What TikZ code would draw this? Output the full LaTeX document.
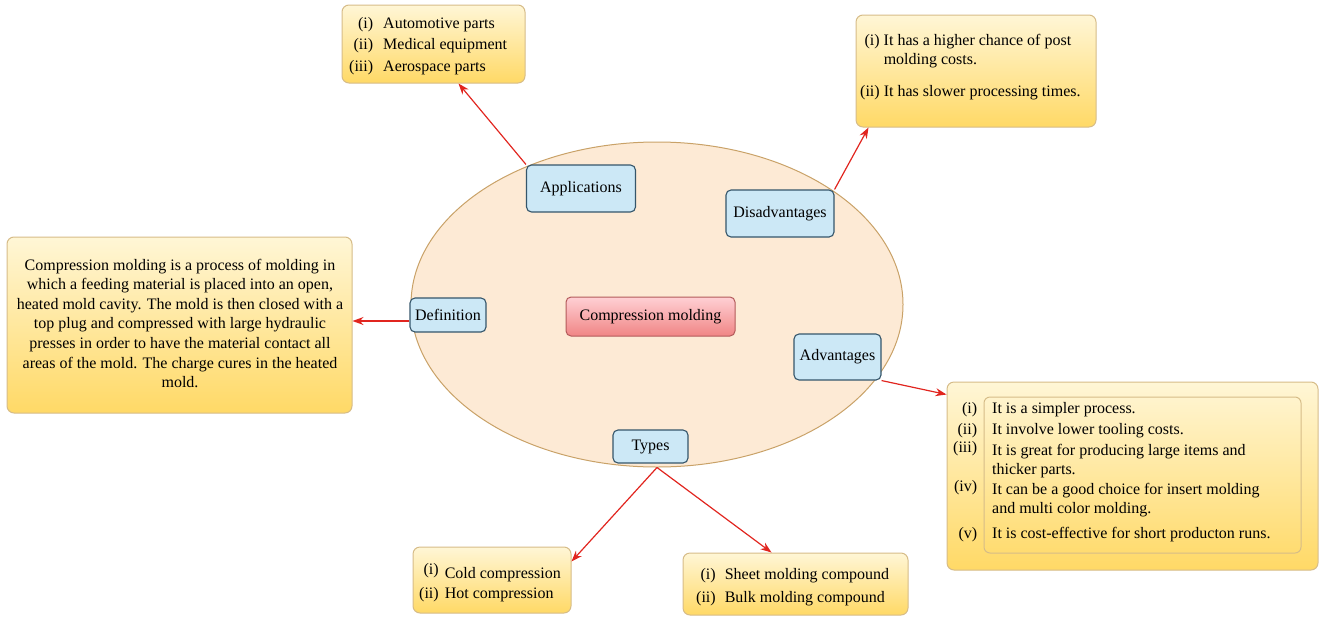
\documentclass[tikz,border=0pt]{standalone}
\usepackage{fontspec}
\setmainfont{Liberation Serif}
\usetikzlibrary{shapes.geometric,arrows.meta}

\definecolor{hubfill}{HTML}{FDEAD5}
\definecolor{hubline}{HTML}{C9A268}
\definecolor{topicfill}{HTML}{CCE8F6}
\definecolor{topicline}{HTML}{35566B}
\definecolor{coretop}{HTML}{FFD0D4}
\definecolor{corebot}{HTML}{F08585}
\definecolor{coreline}{HTML}{B35A5A}
\definecolor{notetop}{HTML}{FFF6D6}
\definecolor{notebot}{HTML}{FFD966}
\definecolor{noteline}{HTML}{D6BC88}
\definecolor{linkred}{HTML}{E1251F}

\tikzset{
  topic/.style={draw=topicline, fill=topicfill, rounded corners=5pt, line width=1.1pt, inner sep=0pt},
  core/.style={draw=coreline, top color=coretop, bottom color=corebot, rounded corners=5pt, line width=1pt, inner sep=0pt},
  note/.style={draw=noteline, top color=notetop, bottom color=notebot, rounded corners=7pt, line width=1pt, inner sep=0pt},
  link/.style={draw=linkred, line width=1.2pt, -{Stealth[length=11pt,width=8pt]}},
  list/.style={anchor=base west, inner sep=0pt}
}

\begin{document}
\begin{tikzpicture}[x=1pt,y=-1pt,font=\fontsize{16}{19.5}\selectfont, line join=round]
		\useasboundingbox (0,0) rectangle (1319,616);
		% hub and topics
		\node[ellipse, draw=hubline, fill=hubfill, line width=1pt, minimum width=492pt, minimum height=325pt, inner sep=0pt] (mold) at (657,304.5) {};
		\node[core, minimum width=169pt, minimum height=39pt] (core) at (650.5,316.5) {Compression molding};
		\node[topic, minimum width=109pt, minimum height=47pt] (app) at (581,188.5) {Applications};
		\node[topic, minimum width=108pt, minimum height=47pt] (dis) at (780,213.5) {Disadvantages};
		\node[topic, minimum width=76pt, minimum height=34pt] (def) at (448,315) {Definition};
		\node[topic, minimum width=87pt, minimum height=46pt] (adv) at (837.5,357) {Advantages};
		\node[topic, minimum width=75pt, minimum height=33pt] (types) at (650.5,446.5) {Types};
		% note boxes
		\node[note, minimum width=183pt, minimum height=78pt] (appbox) at (433.5,44) {};
		\node[list, font=\fontsize{16}{21.5}\selectfont] (applist) at (349,28) {\begin{tabular}[t]{@{}r@{\hspace{10pt}}l@{}}
			(i) & Automotive parts\\
			(ii) & Medical equipment\\
			(iii) & Aerospace parts
		\end{tabular}};
		\node[note, minimum width=240pt, minimum height=112pt] (disbox) at (976,71) {};
		\node[list, font=\fontsize{16}{19}\selectfont] (dislist) at (860,45) {\begin{tabular}[t]{@{}r@{\hspace{4pt}}l@{}}
			(i) & It has a higher chance of post\\
			& molding costs.\\[13pt]
			(ii) & It has slower processing times.
		\end{tabular}};
		\node[note, minimum width=345pt, minimum height=176pt] (defbox) at (179.5,325) {};
		\node[anchor=base, inner sep=0pt, font=\fontsize{16}{19.6}\selectfont] (deftext) at (180,270) {\begin{tabular}[t]{@{}c@{}}
			Compression molding is a process of molding in\\
			which a feeding material is placed into an open,\\
			heated mold cavity. The mold is then closed with a\\
			top plug and compressed with large hydraulic\\
			presses in order to have the material contact all\\
			areas of the mold. The charge cures in the heated\\
			mold.
		\end{tabular}};
		\node[note, minimum width=371pt, minimum height=188pt] (advbox) at (1132.5,476) {};
		\node[draw=noteline, line width=1pt, rounded corners=6pt, minimum width=317pt, minimum height=156pt, inner sep=0pt] (advin) at (1142.5,475) {};
		\node[list, font=\fontsize{16}{19}\selectfont] (advlist) at (953,413) {\begin{tabular}[t]{@{}r@{\hspace{15pt}}l@{}}
			(i) & It is a simpler process.\\[2pt]
			(ii) & It involve lower tooling costs.\\[2pt]
			\raisebox{3pt}{(iii)} & It is great for producing large items and\\
			& thicker parts.\\
			\raisebox{3pt}{(iv)} & It can be a good choice for insert molding\\
			& and multi color molding.\\[6pt]
			(v) & It is cost-effective for short producton runs.
		\end{tabular}};
		\node[note, minimum width=158pt, minimum height=66pt] (coldbox) at (492,580) {};
		\node[list, font=\fontsize{16}{20}\selectfont] (coldlist) at (419,578) {\begin{tabular}[t]{@{}r@{\hspace{6pt}}l@{}}
			\raisebox{4pt}{(i)} & Cold compression\\
			(ii) & Hot compression
		\end{tabular}};
		\node[note, minimum width=225pt, minimum height=62pt] (sheetbox) at (795.5,584) {};
		\node[list, font=\fontsize{16}{23}\selectfont] (sheetlist) at (696,579) {\begin{tabular}[t]{@{}r@{\hspace{9pt}}l@{}}
			(i) & Sheet molding compound\\
			(ii) & Bulk molding compound
		\end{tabular}};
		% connectors
		\coordinate (defin) at ([yshift=-6pt]def.west);
		\draw[link] (app.north west) -- ([xshift=25pt]appbox.south);
		\draw[link] (dis.north east) -- ([xshift=13pt]disbox.south west);
		\draw[link] (defin) -- (defin -| defbox.east);
		\draw[link] (adv.south east) -- ([yshift=-13pt]advbox.north west);
		\draw[link] (mold.south) -- ([yshift=-15pt]coldbox.north east);
		\draw[link] (mold.south) -- ([xshift=-24pt]sheetbox.north);
\end{tikzpicture}
\end{document}
